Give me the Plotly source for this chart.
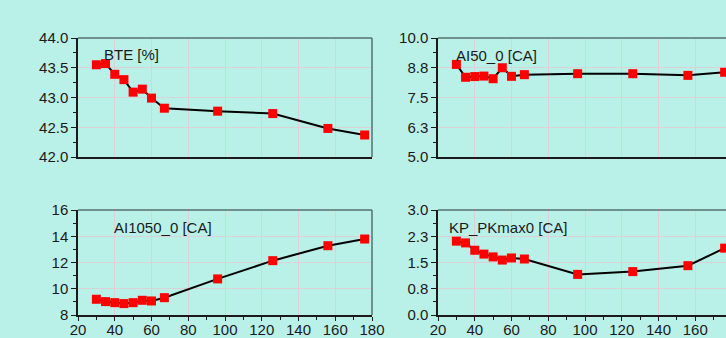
import plotly.graph_objects as go

# ---- data ----
x_vals = [30, 35, 40, 45, 50, 55, 60, 67, 96, 126, 156, 176]
bte = [43.55, 43.57, 43.39, 43.30, 43.09, 43.14, 42.99, 42.82, 42.77, 42.73, 42.48, 42.37]
ai50 = [8.89, 8.35, 8.38, 8.40, 8.29, 8.75, 8.39, 8.46, 8.50, 8.50, 8.43, 8.56]
ai1050 = [9.20, 9.02, 8.94, 8.87, 8.94, 9.12, 9.07, 9.32, 10.75, 12.14, 13.28, 13.79]
kp = [2.11, 2.06, 1.85, 1.74, 1.66, 1.57, 1.63, 1.60, 1.16, 1.24, 1.41, 1.91]
titles = ["BTE [%]", "AI50_0 [CA]", "AI1050_0 [CA]", "KP_PKmax0 [CA]"]

W, H = 726, 338
BG = "#b9f1e9"
GRID = "#dcd2d6"
FONT = "Liberation Sans, Arial, sans-serif"

# pixel geometry
xl0, xl1 = 78, 372
xr0 = 438
yt0, yt1 = 38, 157
yb0, yb1 = 210, 315
px_per_unit = (xl1 - xl0) / 160.0

def dx(a, b):
    return [a / W, b / W]

def dy(top, bot):
    return [(H - bot) / H, (H - top) / H]

fig = go.Figure()

series = [bte, ai50, ai1050, kp]
axes = [("x", "y"), ("x2", "y2"), ("x3", "y3"), ("x4", "y4")]
for s, (xa, ya) in zip(series, axes):
    fig.add_trace(go.Scatter(
        x=x_vals, y=s, xaxis=xa, yaxis=ya, mode="lines+markers",
        line=dict(color="black", width=2),
        marker=dict(symbol="square", size=9, color="#ff0000",
                    line=dict(width=0)),
        showlegend=False, cliponaxis=False))

right_end = 20 + (W - xr0) / px_per_unit

common_x = dict(showgrid=True, gridcolor=GRID, gridwidth=1, dtick=20, tick0=20,
                showline=True, linecolor="#1a1a1a", linewidth=1.5, zeroline=False,
                ticks="outside", ticklen=4, tickcolor="#1a1a1a", automargin=False,
                ticklabelstandoff=-4,
                tickfont=dict(size=15, color="#1a1a1a", family=FONT))
common_y = dict(showgrid=True, gridcolor=GRID, gridwidth=1,
                showline=True, linecolor="#1a1a1a", linewidth=1.5, zeroline=False,
                ticks="outside", ticklen=5, tickcolor="#1a1a1a", automargin=False,
                tickfont=dict(size=15, color="#1a1a1a", family=FONT))

fig.update_layout(
    width=W, height=H,
    margin=dict(l=0, r=0, t=0, b=0, autoexpand=False),
    paper_bgcolor=BG, plot_bgcolor=BG,
    font=dict(family=FONT, size=15, color="#1a1a1a"),
    xaxis=dict(common_x, domain=dx(xl0, xl1), range=[20, 180], anchor="y",
               showticklabels=False, ticks=""),
    yaxis=dict(common_y, domain=dy(yt0, yt1), range=[42, 44], dtick=0.5, tick0=42,
               tickformat=".1f", anchor="x",
               minor=dict(dtick=0.25, ticks="outside", ticklen=3, tickcolor="#1a1a1a", showgrid=False)),
    xaxis2=dict(common_x, domain=dx(xr0, W), range=[20, right_end], anchor="y2",
                showticklabels=False, ticks=""),
    yaxis2=dict(common_y, domain=dy(yt0, yt1), range=[5, 10], dtick=1.25, tick0=5,
                tickformat=".1f", anchor="x2",
                minor=dict(dtick=0.625, ticks="outside", ticklen=3, tickcolor="#1a1a1a", showgrid=False)),
    xaxis3=dict(common_x, domain=dx(xl0, xl1), range=[20, 180], anchor="y3",
                minor=dict(dtick=10, ticks="outside", ticklen=3, tickcolor="#1a1a1a", showgrid=False)),
    yaxis3=dict(common_y, domain=dy(yb0, yb1), range=[8, 16], dtick=2, tick0=8,
                tickformat="d", anchor="x3",
                minor=dict(dtick=1, ticks="outside", ticklen=3, tickcolor="#1a1a1a", showgrid=False)),
    xaxis4=dict(common_x, domain=dx(xr0, W), range=[20, right_end], anchor="y4",
                minor=dict(dtick=10, ticks="outside", ticklen=3, tickcolor="#1a1a1a", showgrid=False)),
    yaxis4=dict(common_y, domain=dy(yb0, yb1), range=[0, 3], dtick=0.75, tick0=0,
                tickformat=".1f", anchor="x4",
                minor=dict(dtick=0.375, ticks="outside", ticklen=3, tickcolor="#1a1a1a", showgrid=False)),
)

# top / right frame borders
frame_col = "#56706e"
for xa, ya, right in [("x", "y", True), ("x2", "y2", False), ("x3", "y3", True), ("x4", "y4", False)]:
    fig.add_shape(type="line", xref=f"{xa} domain", yref=f"{ya} domain",
                  x0=0, x1=1, y0=1, y1=1, line=dict(color=frame_col, width=1.5))
    if right:
        fig.add_shape(type="line", xref=f"{xa} domain", yref=f"{ya} domain",
                      x0=1, x1=1, y0=0, y1=1, line=dict(color=frame_col, width=1.5))

# panel titles
title_pos = [(0.08, 0.865), (0.055, 0.855), (0.116, 0.83), (0.03, 0.83)]
for (xa, ya), t, (tx, ty) in zip(axes, titles, title_pos):
    fig.add_annotation(text=t, xref=f"{xa} domain", yref=f"{ya} domain",
                       x=tx, y=ty, xanchor="left", yanchor="middle", showarrow=False,
                       font=dict(size=15, color="#1a1a1a", family=FONT))

fig.write_html("out.html")
